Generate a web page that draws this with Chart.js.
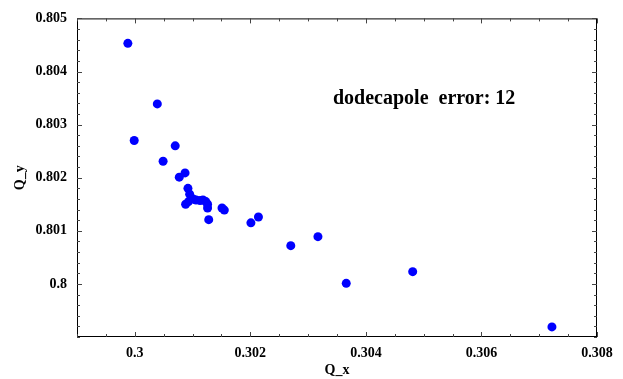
<!DOCTYPE html>
<html>
<head>
<meta charset="utf-8">
<script src="https://cdn.jsdelivr.net/npm/chart.js@4/dist/chart.umd.min.js"></script>
<style>
html,body{margin:0;padding:0;background:#fff;}
#wrap{width:623px;height:379px;position:relative;}
</style>
</head>
<body>
<div id="wrap"><canvas id="c" width="623" height="379"></canvas></div>
<script>
const xValues = [0.29988,0.30039,0.29999,0.30049,0.30070,0.30077,0.30087,0.30092,0.30095,0.30088,0.30093,0.30101,0.30106,0.30113,0.30118,0.30123,0.30126,0.30126,0.30128,0.30151,0.30155,0.30201,0.30214,0.30270,0.30317,0.30366,0.30481,0.30722];
const yValues = [0.80453,0.80339,0.80270,0.80231,0.80260,0.80201,0.80209,0.80180,0.80169,0.80150,0.80155,0.80160,0.80158,0.80157,0.80158,0.80155,0.80150,0.80143,0.80121,0.80143,0.80139,0.80115,0.80126,0.80072,0.80089,0.80001,0.80023,0.79919];
const xTicks = [0.300,0.302,0.304,0.306,0.308];
const xTickLabels = ["0.3","0.302","0.304","0.306","0.308"];
const yTicks = [0.800,0.801,0.802,0.803,0.804,0.805];
const yTickLabels = ["0.8","0.801","0.802","0.803","0.804","0.805"];
const xMinorStep = 0.0005, yMinorStep = 0.0002;
const annotationText = "dodecapole  error: 12";

const font = {family:"'Liberation Serif','Times New Roman',serif", weight:'bold', size:14};

const frameTicks = {
  id:'frameTicks',
  afterDraw(chart){
    const ctx = chart.ctx, a = chart.chartArea;
    const xs = chart.scales.x, ys = chart.scales.y;
    ctx.save();
    ctx.strokeStyle = '#000';
    ctx.lineWidth = 1;
    ctx.strokeRect(a.left+0.5, a.top+0.5, a.right-a.left-1, a.bottom-a.top-1);
    ctx.strokeStyle = '#444';
    for (let v = xs.min; v <= xs.max + 1e-9; v += xMinorStep) {
      const major = xTicks.some(t => Math.abs(t - v) < 1e-7);
      const len = major ? 5 : 3;
      const px = Math.round(xs.getPixelForValue(v)) + 0.5;
      ctx.beginPath();
      ctx.moveTo(px, a.bottom); ctx.lineTo(px, a.bottom - len);
      ctx.moveTo(px, a.top); ctx.lineTo(px, a.top + len);
      ctx.stroke();
    }
    for (let v = ys.min; v <= ys.max + 1e-9; v += yMinorStep) {
      const major = yTicks.some(t => Math.abs(t - v) < 1e-7);
      const len = major ? 5 : 3;
      const py = Math.round(ys.getPixelForValue(v)) + 0.5;
      ctx.beginPath();
      ctx.moveTo(a.left, py); ctx.lineTo(a.left + len, py);
      ctx.moveTo(a.right, py); ctx.lineTo(a.right - len, py);
      ctx.stroke();
    }
    ctx.fillStyle = '#000';
    ctx.font = "bold 20px 'Liberation Serif','Times New Roman',serif";
    ctx.textBaseline = 'alphabetic';
    ctx.fillText(annotationText, xs.getPixelForValue(0.30343), ys.getPixelForValue(0.80338));
    ctx.restore();
  }
};

new Chart(document.getElementById('c'), {
  type:'scatter',
  data:{datasets:[{
    data: xValues.map((x,i)=>({x:x, y:yValues[i]})),
    backgroundColor:'#0000ff', borderColor:'#0000ff',
    pointRadius:4.5, pointBorderWidth:0, pointHoverRadius:4.5
  }]},
  options:{
    responsive:false, animation:false,
    layout:{padding:{top:16,right:26,left:0,bottom:0}},
    plugins:{legend:{display:false}, tooltip:{enabled:false}},
    scales:{
      x:{
        type:'linear', min:0.299, max:0.308,
        afterBuildTicks(s){ s.ticks = xTicks.map(v=>({value:v})); },
        afterFit(s){ s.height = 42; },
        grid:{display:false, drawTicks:false},
        border:{display:false},
        ticks:{font, color:'#000', padding:8, maxRotation:0, autoSkip:false,
          callback:(v,i)=>xTickLabels[i]},
        title:{display:true, text:'Q_x', font, color:'#000', padding:{top:1,bottom:0}}
      },
      y:{
        type:'linear', min:0.799, max:0.805,
        afterBuildTicks(s){ s.ticks = yTicks.map(v=>({value:v})); },
        afterFit(s){ s.width = 77; },
        grid:{display:false, drawTicks:false},
        border:{display:false},
        ticks:{font, color:'#000', padding:10, autoSkip:false,
          callback:(v,i)=>yTickLabels[i]},
        title:{display:true, text:'Q_y', font, color:'#000', padding:{top:12,bottom:0}}
      }
    }
  },
  plugins:[frameTicks]
});
</script>
</body>
</html>
